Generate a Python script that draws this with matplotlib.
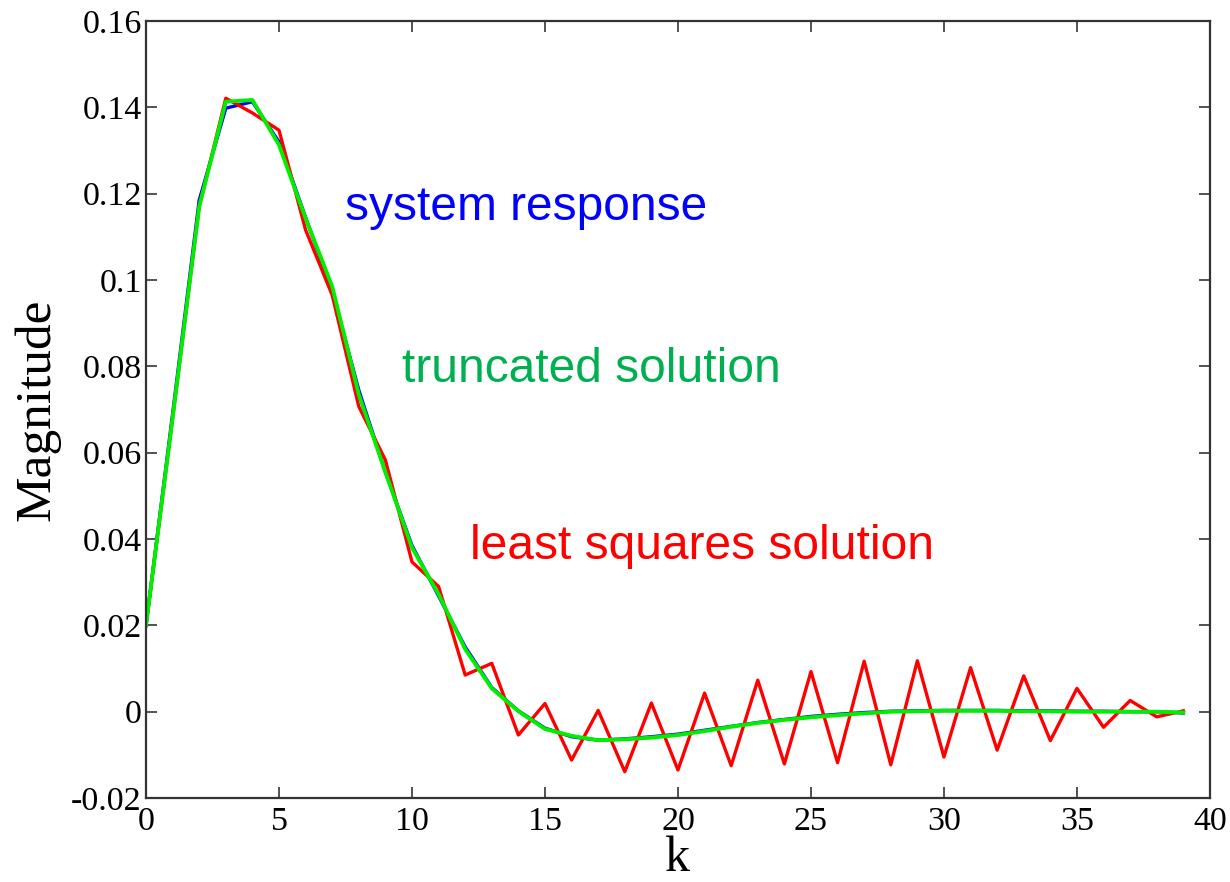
import matplotlib
matplotlib.use("Agg")
import matplotlib.pyplot as plt
import numpy as np

# sample index
k = np.arange(40)

# system response (blue)
system_resp = [0.020, 0.069, 0.1185, 0.1398, 0.1413, 0.132, 0.1145, 0.0975, 0.0745, 0.0555,
               0.0385, 0.0268, 0.0150, 0.0056, 0.0002, -0.0038, -0.0058, -0.0066, -0.0063, -0.0058,
               -0.0052, -0.0043, -0.0034, -0.0025, -0.0018, -0.0011, -0.0006, -0.0002, 0.0001, 0.0002,
               0.0003, 0.0003, 0.0003, 0.0002, 0.0002, 0.0001, 0.0001, 0.0000, 0.0000, -0.0003]

# truncated solution (green)
truncated = [0.020, 0.068, 0.117, 0.1413, 0.1417, 0.1313, 0.1143, 0.0985, 0.0735, 0.0555,
             0.0380, 0.0272, 0.0145, 0.0054, 0.0001, -0.0040, -0.0056, -0.0066, -0.0064, -0.0060,
             -0.0054, -0.0045, -0.0035, -0.0026, -0.0019, -0.0013, -0.0008, -0.0004, 0.0000, 0.0001,
             0.0002, 0.0002, 0.0002, 0.0001, 0.0001, 0.0000, 0.0000, 0.0000, 0.0000, -0.0002]

# least squares solution (red)
least_sq = [0.020, 0.068, 0.117, 0.1421, 0.1387, 0.1347, 0.1116, 0.0965, 0.0707, 0.0583,
            0.0347, 0.0290, 0.0085, 0.0112, -0.0054, 0.0019, -0.0112, 0.0003, -0.0139, 0.0020,
            -0.0135, 0.0043, -0.0125, 0.0073, -0.0121, 0.0093, -0.0118, 0.0117, -0.0123, 0.0118,
            -0.0105, 0.0102, -0.0089, 0.0083, -0.0067, 0.0054, -0.0036, 0.0026, -0.0012, 0.0002]

yticks = [-0.02, 0, 0.02, 0.04, 0.06, 0.08, 0.1, 0.12, 0.14, 0.16]
ytick_labels = ["-0.02", "0", "0.02", "0.04", "0.06", "0.08", "0.1", "0.12", "0.14", "0.16"]
xticks = [0, 5, 10, 15, 20, 25, 30, 35, 40]

fig = plt.figure(figsize=(12.3, 8.82), dpi=100)
ax = fig.add_axes([0.1187, 0.0952, 0.865, 0.881])

ax.plot(k, system_resp, color="#0000ff", lw=2.4)
ax.plot(k, least_sq, color="#ff0000", lw=2.4)
ax.plot(k, truncated, color="#00ee00", lw=2.8)

ax.set_xlim(0, 40)
ax.set_ylim(-0.02, 0.16)
ax.set_xticks(xticks)
ax.set_xticklabels([str(x) for x in xticks])
ax.set_yticks(yticks)
ax.set_yticklabels(ytick_labels)

serif = "Liberation Serif"
for lab in ax.get_xticklabels() + ax.get_yticklabels():
    lab.set_family(serif)
    lab.set_fontsize(24.5)

ax.tick_params(direction="in", length=8, width=1.3, color="#444444",
               top=True, right=True)
ax.tick_params(axis="x", pad=6)
ax.tick_params(axis="y", pad=3)
for sp in ax.spines.values():
    sp.set_linewidth(1.6)
    sp.set_color("#333333")

ax.set_xlabel("k", family=serif, fontsize=36, labelpad=-1)
ax.set_ylabel("Magnitude", family=serif, fontsize=37, labelpad=8)

sans = "Liberation Sans"
ax.text(7.48, 0.1167, "system response", color="#0000ff", family=sans,
        fontsize=34.5, va="center", ha="left")
ax.text(9.62, 0.0792, "truncated solution", color="#00b050", family=sans,
        fontsize=34.5, va="center", ha="left")
ax.text(12.18, 0.0382, "least squares solution", color="#ff0000", family=sans,
        fontsize=34.5, va="center", ha="left")

fig.savefig("out.png", dpi=100)
